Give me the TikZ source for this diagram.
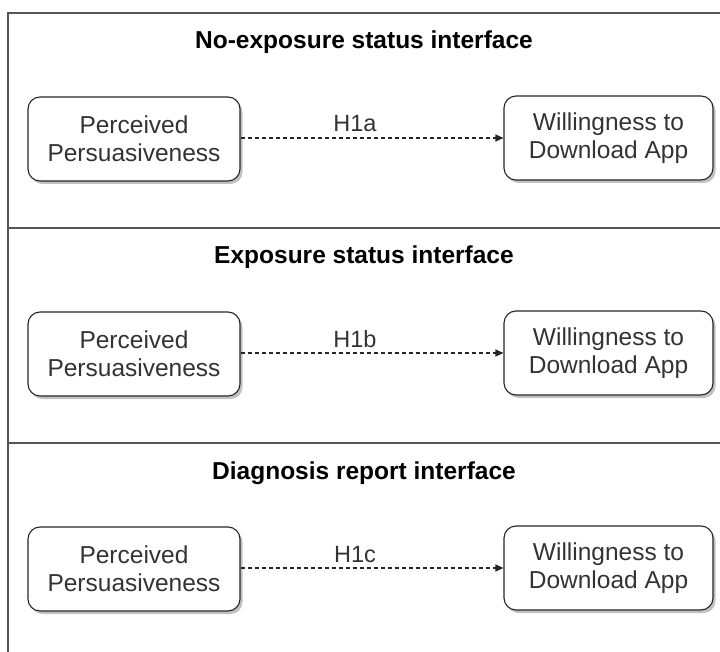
\documentclass[tikz,border=0pt]{standalone}
\usepackage{fontspec}
\setmainfont{Liberation Sans}
\usetikzlibrary{shadows,arrows.meta}
\definecolor{txt}{HTML}{333333}
\definecolor{frame}{HTML}{555555}
\tikzset{
  framel/.style={draw=frame, line width=1.8pt},
  boxn/.style={draw=black!85, line width=1.1pt, rounded corners=12pt, fill=white,
    drop shadow={shadow xshift=2.5pt, shadow yshift=-3pt, fill=black!40, opacity=0.6},
    align=center, inner sep=0pt, text=txt, font=\fontsize{24.5}{28}\selectfont},
  titlen/.style={anchor=base, font=\bfseries\fontsize{24.5}{28}\selectfont, text=black},
  hlab/.style={anchor=base, font=\fontsize{23.5}{26}\selectfont, text=txt},
  dashar/.style={draw=black!85, line width=1.1pt, dash pattern=on 4pt off 3pt,
    -{Triangle[length=8pt,width=7pt]}}
}
\begin{document}
\begin{tikzpicture}[x=1pt,y=-1pt]
\useasboundingbox (0,0) rectangle (720,652);
\fill[white] (0,0) rectangle (720,652);
% frame
\coordinate (ftl) at (8,13);
\coordinate (ftr) at (721,13);
\coordinate (fbl) at (8,653);
\coordinate (s1l) at (8,228);
\coordinate (s1r) at (721,228);
\coordinate (s2l) at (8,443);
\coordinate (s2r) at (721,443);
\draw[framel] (ftr) -- (ftl) -- (fbl);
\draw[framel] (s1l) -- (s1r);
\draw[framel] (s2l) -- (s2r);
\foreach \i/\t/\h in {0/No-exposure status interface/H1a,1/Exposure status interface/H1b,2/Diagnosis report interface/H1c}{
  \pgfmathsetmacro{\dy}{215*\i}
  \node[titlen] (t\i) at (364,49+\dy) {\t};
  \node[boxn, minimum width=212pt, minimum height=84pt] (p\i) at (134,139+\dy) {Perceived\\Persuasiveness};
  \node[boxn, minimum width=209pt, minimum height=84pt] (w\i) at (608.5,138+\dy) {Willingness to\\Download App};
  \draw[dashar] (p\i.east |- w\i.west) -- (w\i.west);
  \node[hlab] (h\i) at (355,132+\dy) {\h};
}
\end{tikzpicture}
\end{document}
